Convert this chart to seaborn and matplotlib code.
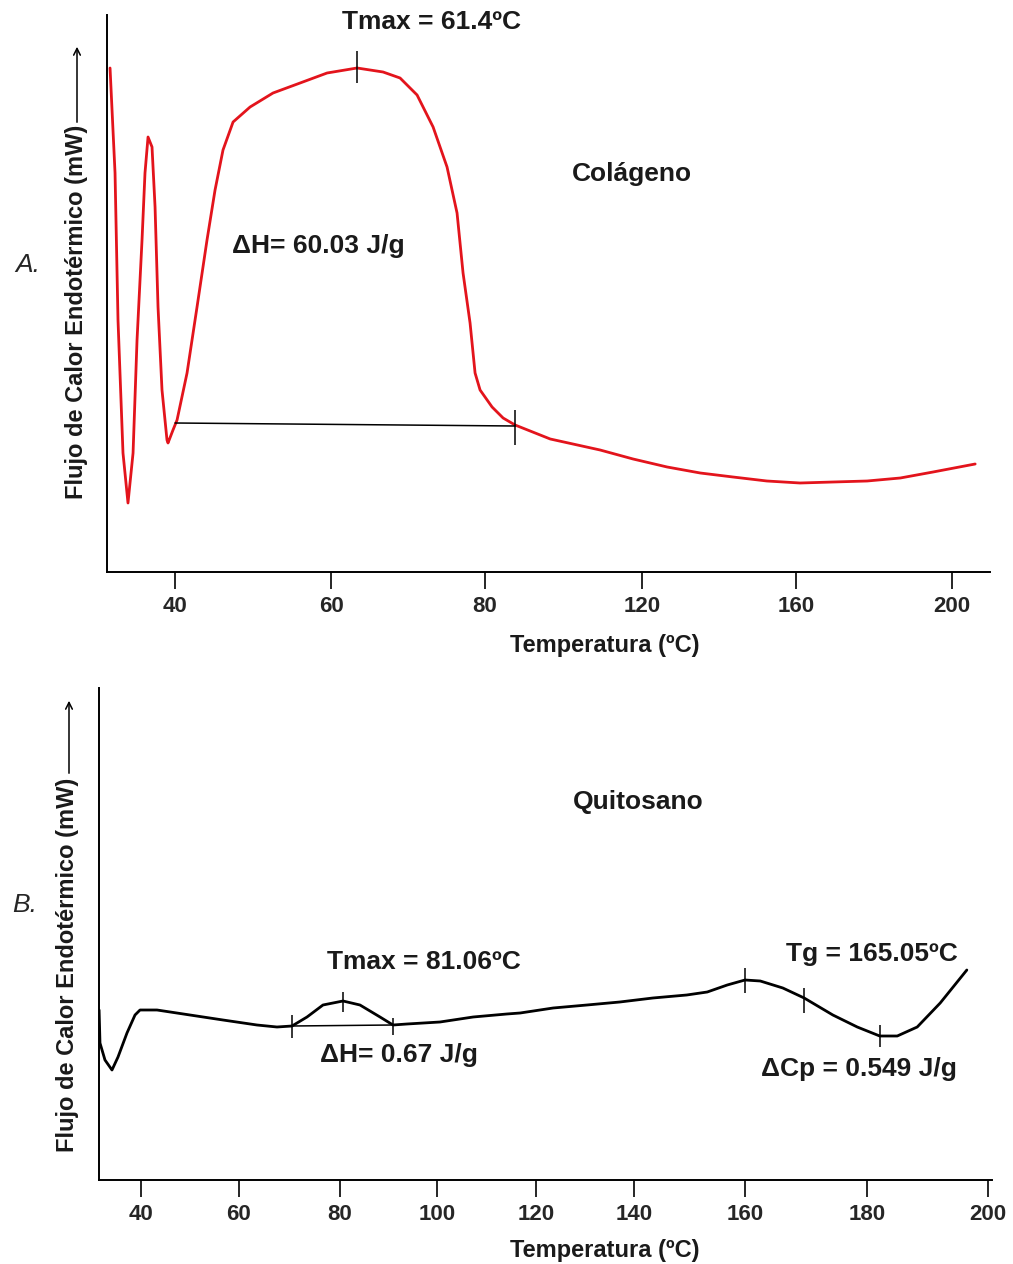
import numpy as np
import pandas as pd
import matplotlib
matplotlib.use("Agg")
import matplotlib.pyplot as plt
import seaborn as sns

# ===== Data (temperature in degC, signal in arbitrary mW units) =====
colageno_T = [31.67, 32.31, 32.69, 33.33, 33.97, 34.62, 35.13, 35.77, 36.15, 36.54, 37.05,
              37.44, 37.82, 38.33, 38.97, 39.10, 39.74, 40.26, 41.54, 42.82, 44.10, 45.13,
              46.15, 47.44, 49.62, 52.56, 56.03, 59.49, 63.38, 66.75, 68.96, 71.17, 73.25,
              75.06, 76.36, 77.14, 78.05, 78.70, 79.35, 81.78, 84.59, 87.64, 96.6, 109.3,
              117.7, 126.5, 135.1, 143.6, 152.4, 161.0, 169.5, 178.2, 186.7, 195.1, 205.9]
colageno_y = [504, 399, 252, 119, 69, 119, 232, 332, 399, 435, 425,
              365, 265, 182, 132, 129, 142, 152, 199, 265, 332, 382,
              422, 450, 465, 479, 489, 499, 504, 500, 494, 477, 445,
              405, 359, 299, 249, 199, 182, 165, 154, 147, 133, 122,
              113, 105, 99, 95, 91, 89, 90, 91, 94, 100, 108]

quitosano_T = [31.45, 31.63, 32.65, 34.08, 35.31, 37.14, 38.78, 39.80, 43.27, 50.0, 56.73,
               63.56, 67.52, 70.50, 73.47, 76.63, 80.62, 84.12, 88.25, 90.93, 93.81, 100.6,
               107.3, 114.1, 116.8, 123.5, 130.4, 137.1, 143.4, 149.5, 153.2, 156.8, 160.0,
               162.5, 166.2, 169.7, 174.4, 178.4, 182.1, 185.0, 188.3, 192.1, 196.5]
quitosano_y = [170, 137, 120, 110, 123, 147, 165, 170, 170, 165, 160,
               155, 153, 154, 163, 175, 179, 175, 163, 155, 156, 158,
               163, 166, 167, 172, 175, 178, 182, 185, 188, 195, 200,
               199, 192, 182, 165, 153, 144, 144, 153, 177, 210]

# event marks (temperature, low, high) and integration baselines
col_marks_T = [63.38, 87.64]
col_marks_lo = [489, 127]
col_marks_hi = [521, 162]
col_base_T = [40.0, 87.64]
col_base_y = [149, 146]

qui_marks_T = [70.5, 80.6, 90.9, 160.0, 169.7, 182.1]
qui_marks_lo = [142, 168, 145, 187, 167, 133]
qui_marks_hi = [165, 188, 162, 212, 192, 155]
qui_base_T = [70.5, 90.9]
qui_base_y = [154, 155]

# tick labels of the (non-uniform) temperature axes and where they sit on the original axis
top_ticks = [40, 60, 80, 120, 160, 200]
top_tick_pos = [175, 331, 485, 642, 796, 952]
bot_ticks = [40, 60, 80, 100, 120, 140, 160, 180, 200]
bot_tick_pos = [141, 239, 340, 437, 536, 634, 745, 867, 988]


def piecewise_scale(ticks, pos):
    # extend both ends linearly so np.interp extrapolates
    t = np.array(ticks, float)
    p = np.array(pos, float)
    s0 = (p[1] - p[0]) / (t[1] - t[0])
    s1 = (p[-1] - p[-2]) / (t[-1] - t[-2])
    t = np.concatenate([[t[0] - 40], t, [t[-1] + 40]])
    p = np.concatenate([[p[0] - 40 * s0], p, [p[-1] + 40 * s1]])
    fwd = lambda x: np.interp(x, t, p)
    inv = lambda x: np.interp(x, p, t)
    return fwd, inv


sns.set_style("white")
plt.rcParams["font.family"] = ["Liberation Sans", "DejaVu Sans"]

W, H = 1013, 1264
fig = plt.figure(figsize=(W / 100, H / 100), dpi=100)

def fx(px):
    return px / W

def fy(py):
    return 1 - py / H

ax1 = fig.add_axes([fx(107), fy(572), fx(990) - fx(107), fy(15) - fy(572)])
ax2 = fig.add_axes([fx(99), fy(1180), fx(992) - fx(99), fy(688) - fy(1180)])

RED = "#e3141c"
df_col = pd.DataFrame({"T": colageno_T, "y": colageno_y})
df_qui = pd.DataFrame({"T": quitosano_T, "y": quitosano_y})

# ===== Panel A: Colágeno =====
ax1.set_xscale("function", functions=piecewise_scale(top_ticks, top_tick_pos))
sns.lineplot(data=df_col, x="T", y="y", ax=ax1, color=RED, lw=2.0)
ax1.plot(col_base_T, col_base_y, color="black", lw=1.1)
ax1.vlines(col_marks_T, col_marks_lo, col_marks_hi, color="black", lw=1.1)
ax1.set_xlim(31.28, 209.7)
ax1.set_ylim(0, 557)
ax1.set_xticks(top_ticks)
ax1.set_xticklabels([str(t) for t in top_ticks])

# ===== Panel B: Quitosano =====
ax2.set_xscale("function", functions=piecewise_scale(bot_ticks, bot_tick_pos))
sns.lineplot(data=df_qui, x="T", y="y", ax=ax2, color="black", lw=2.0)
ax2.plot(qui_base_T, qui_base_y, color="black", lw=1.1)
ax2.vlines(qui_marks_T, qui_marks_lo, qui_marks_hi, color="black", lw=1.1)
ax2.set_xlim(31.43, 200.66)
ax2.set_ylim(0, 492)
ax2.set_xticks(bot_ticks)
ax2.set_xticklabels([str(t) for t in bot_ticks])

for ax in (ax1, ax2):
    for side in ("top", "right"):
        ax.spines[side].set_visible(False)
    for side in ("left", "bottom"):
        ax.spines[side].set_linewidth(1.4)
        ax.spines[side].set_color("black")
    ax.set_yticks([])
    ax.set_xlabel("")
    ax.set_ylabel("")
    ax.tick_params(axis="x", direction="out", length=12, width=1.4, pad=5,
                   labelsize=16, bottom=True)
    for lbl in ax.get_xticklabels():
        lbl.set_fontweight("bold")
    ax.minorticks_off()

# ===== Texts =====
txt = dict(fontsize=19, fontweight="bold", ha="center", va="center", color="#1a1a1a")
fig.text(fx(431), fy(22), "Tmax = 61.4ºC", **txt)
fig.text(fx(632), fy(174), "Colágeno", **txt)
fig.text(fx(318), fy(246), "ΔH= 60.03 J/g", **txt)
fig.text(fx(605), fy(645), "Temperatura (ºC)", fontsize=17, fontweight="bold",
         ha="center", va="center", color="#1a1a1a")

fig.text(fx(638), fy(802), "Quitosano", **txt)
fig.text(fx(424), fy(962), "Tmax = 81.06ºC", **txt)
fig.text(fx(399), fy(1055), "ΔH= 0.67 J/g", **txt)
fig.text(fx(872), fy(954), "Tg = 165.05ºC", **txt)
fig.text(fx(859), fy(1069), "ΔCp = 0.549 J/g", **txt)
fig.text(fx(605), fy(1250), "Temperatura (ºC)", fontsize=17, fontweight="bold",
         ha="center", va="center", color="#1a1a1a")

fig.text(fx(28), fy(265), "A.", fontsize=19, fontstyle="italic", ha="center", va="center")
fig.text(fx(25), fy(905), "B.", fontsize=19, fontstyle="italic", ha="center", va="center")

ylab = dict(fontsize=17, fontweight="bold", rotation=90, ha="center", va="center",
            color="#1a1a1a")
fig.text(fx(77), fy(312), "Flujo de Calor Endotérmico (mW)", **ylab)
fig.text(fx(68), fy(965), "Flujo de Calor Endotérmico (mW)", **ylab)

arrow = dict(arrowstyle="->", color="black", lw=1.1, mutation_scale=12)
fig.add_artist(matplotlib.patches.FancyArrowPatch((fx(77), fy(125)), (fx(77), fy(44)),
                                                  transform=fig.transFigure, **arrow))
fig.add_artist(matplotlib.patches.FancyArrowPatch((fx(69), fy(776)), (fx(69), fy(698)),
                                                  transform=fig.transFigure, **arrow))

fig.savefig("out.png", dpi=100)
